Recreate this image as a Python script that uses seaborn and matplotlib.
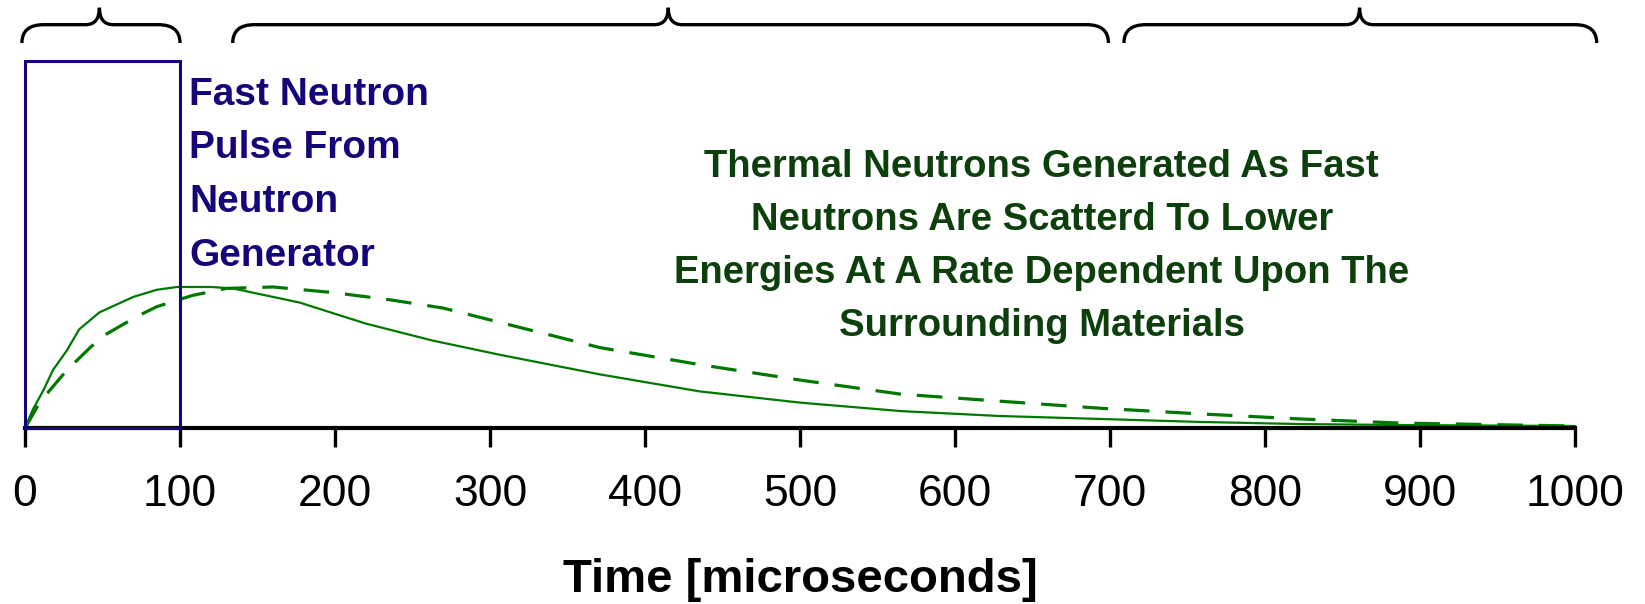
import matplotlib
matplotlib.use("Agg")
import pandas as pd
import matplotlib.pyplot as plt
import seaborn as sns
from matplotlib.patches import Rectangle, PathPatch
from matplotlib.path import Path

# readings (time in microseconds, count rate normalised to peak)
t_solid = [0, 5, 12, 18, 27, 35, 48, 70, 85, 98, 120, 134, 177, 220, 263, 306, 371,
           435, 500, 565, 629, 694, 758, 823, 887, 1000]
rate_solid = [0, 0.13, 0.27, 0.41, 0.55, 0.70, 0.82, 0.93, 0.98, 1.0, 1.0, 0.99, 0.89,
              0.74, 0.62, 0.52, 0.38, 0.26, 0.18, 0.12, 0.085, 0.064, 0.043, 0.028,
              0.021, 0.014]
t_dashed = [0, 10, 27, 42, 50, 72, 85, 108, 130, 160, 199, 235, 270, 306, 371, 435,
            500, 565, 629, 694, 758, 823, 887, 1000]
rate_dashed = [0, 0.19, 0.41, 0.57, 0.65, 0.79, 0.86, 0.94, 0.99, 1.0, 0.96, 0.91,
               0.85, 0.75, 0.57, 0.45, 0.34, 0.24, 0.19, 0.14, 0.10, 0.064, 0.035, 0.014]

x_ticks = [0, 100, 200, 300, 400, 500, 600, 700, 800, 900, 1000]
pulse_window = (0, 100)
# (start, tip, end) of the braces along the top
brace_spans = [(-2, 48, 100), (134, 415, 699), (709, 861, 1014)]

pulse_text = "Fast Neutron\nPulse From\nNeutron\nGenerator"
thermal_text = ("Thermal Neutrons Generated As Fast\n"
                "Neutrons Are Scatterd To Lower\n"
                "Energies At A Rate Dependent Upon The\n"
                "Surrounding Materials")

line_green = "#007800"
text_green = "#0d3f0d"
navy = "#14057a"

sns.set_style("white")
plt.rcParams['font.family'] = ['Liberation Sans', 'DejaVu Sans']

fig = plt.figure(figsize=(16.45, 6.04), dpi=100)
ax = fig.add_axes([25 / 1645, 176 / 604, 1550 / 1645, 428 / 604])

sns.lineplot(x=t_solid, y=rate_solid, ax=ax, color=line_green, lw=1.6, clip_on=False)
sns.lineplot(x=t_dashed, y=rate_dashed, ax=ax, color=line_green, lw=2.3,
             linestyle=(0, (8, 5)), clip_on=False)

ax.set_xlim(0, 1000)
ax.set_ylim(0, 3.035)

# pulse box
ax.add_patch(Rectangle((pulse_window[0], 0), pulse_window[1] - pulse_window[0], 2.60,
                       fill=False, ec=navy, lw=2.2, clip_on=False, zorder=3))


def brace(ax, x0, tip, x1, y_end=2.73, y_bar=2.86, y_tip=2.98, d_end=14, d_tip=9):
    verts = [(x0, y_end), (x0, y_bar), (x0 + d_end, y_bar),
             (tip - d_tip, y_bar), (tip, y_bar), (tip, y_tip),
             (tip, y_bar), (tip + d_tip, y_bar),
             (x1 - d_end, y_bar), (x1, y_bar), (x1, y_end)]
    codes = [Path.MOVETO, Path.CURVE3, Path.CURVE3, Path.LINETO,
             Path.CURVE3, Path.CURVE3, Path.CURVE3, Path.CURVE3,
             Path.LINETO, Path.CURVE3, Path.CURVE3]
    ax.add_patch(PathPatch(Path(verts, codes), fill=False, ec="black", lw=2.4,
                           clip_on=False))


for s, tp, e in brace_spans:
    brace(ax, s, tp, e)

ax.text(106, 2.49, pulse_text, color=navy, fontsize=28, fontweight="bold",
        ha="left", va="top", linespacing=1.63)
ax.text(656, 1.975, thermal_text, color=text_green, fontsize=27.5, fontweight="bold",
        ha="center", va="top", linespacing=1.6, multialignment="center")

sns.despine(ax=ax, left=True)
ax.spines['bottom'].set_linewidth(3)
ax.spines['bottom'].set_color("black")
ax.set_yticks([])
ax.set_xticks(x_ticks)
ax.tick_params(axis='x', direction='out', length=14, width=2.4, color="black",
               labelcolor="black", labelsize=32, pad=19, bottom=True)
ax.set_xlabel("Time [microseconds]", fontsize=34, fontweight="bold", labelpad=31,
              color="black")
ax.grid(False)

fig.savefig("out.png", dpi=100)
